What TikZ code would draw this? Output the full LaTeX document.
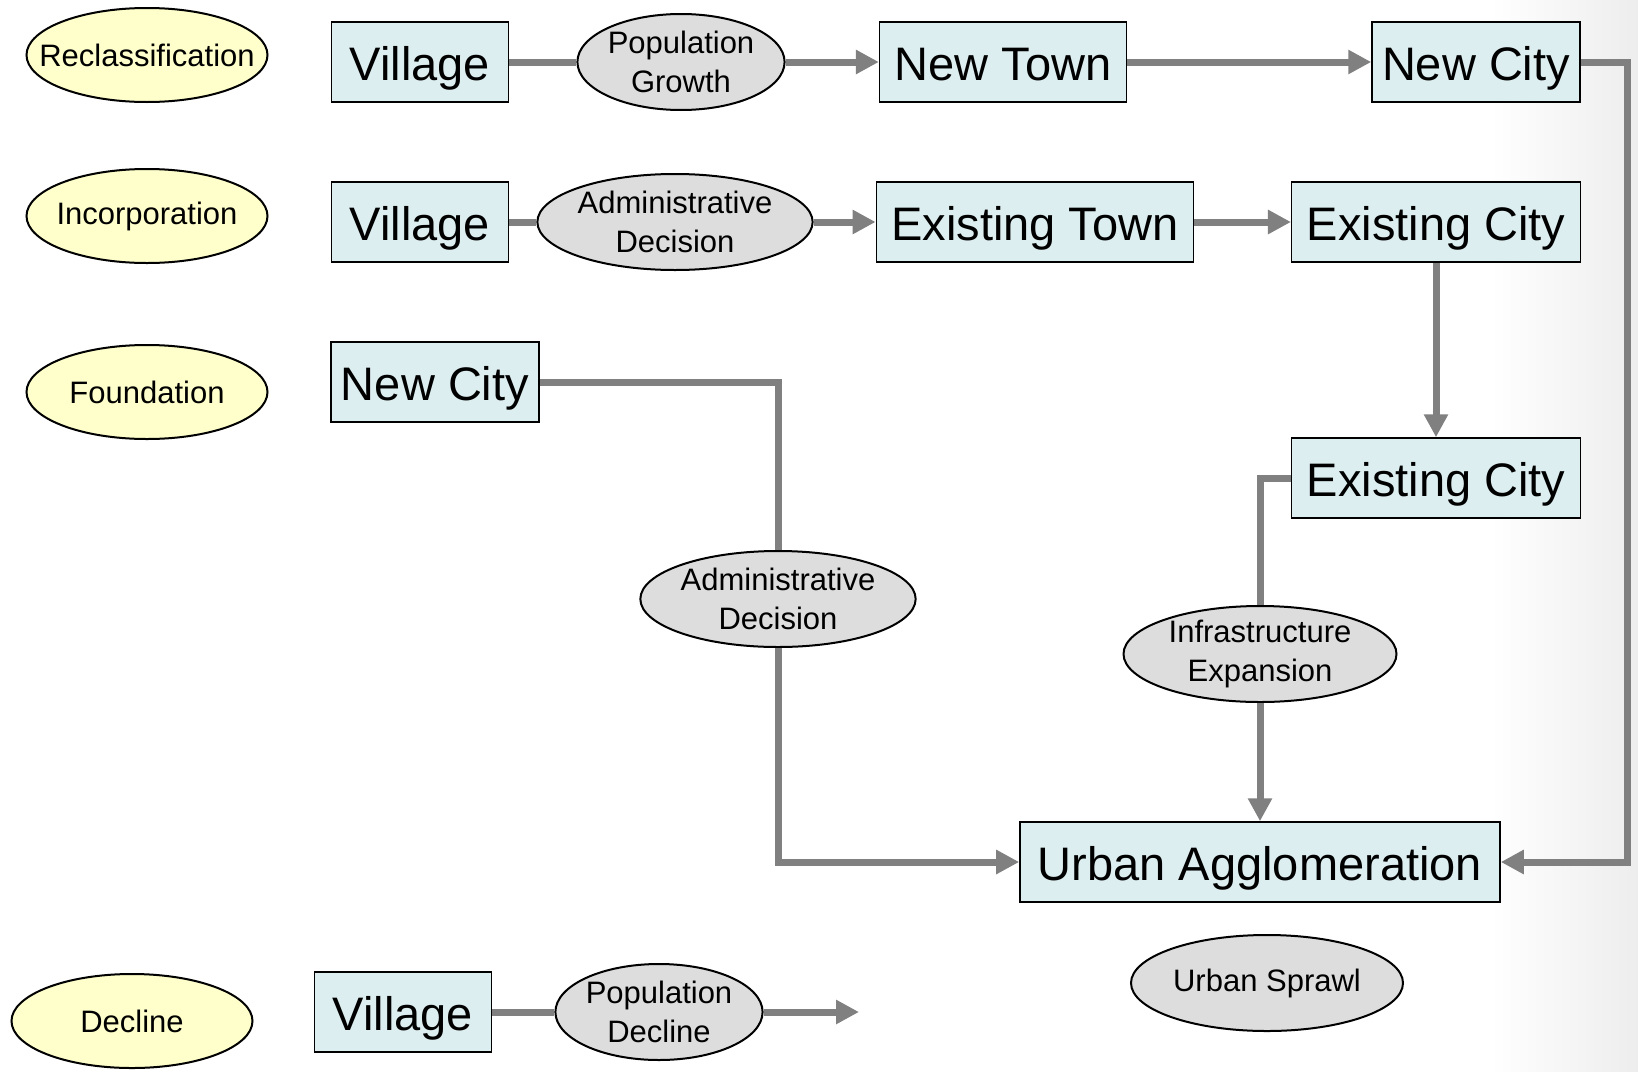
\documentclass[tikz,border=0pt]{standalone}
\usepackage{fontspec}
\setmainfont{Liberation Sans}
\usetikzlibrary{arrows.meta,shapes.geometric}
\definecolor{boxfill}{HTML}{DDEEF0}
\definecolor{phasefill}{HTML}{FFFFCC}
\definecolor{eventfill}{HTML}{DDDDDD}
\definecolor{flowgray}{HTML}{808080}
\newcommand{\phasetext}[1]{\makebox[0pt]{#1}}

\begin{document}
\begin{tikzpicture}[x = 1pt, y = -1pt, align = center,
    stagebox/.style = {draw, fill = boxfill, line width = 1.5pt, minimum width = 177pt,
        minimum height = 80pt, inner xsep = 15pt, text height = 42pt, text depth = 6pt,
        font = \fontsize{47}{56}\selectfont},
    phase/.style = {ellipse, draw, fill = phasefill, line width = 2pt, minimum width = 241pt,
        minimum height = 94pt, inner sep = 0pt, font = \fontsize{31}{38.5}\selectfont},
    event/.style = {ellipse, draw, fill = eventfill, line width = 2pt,
        minimum height = 96pt, inner sep = 0pt, font = \fontsize{31}{38.5}\selectfont},
    flow/.style = {draw = flowgray, line width = 7pt},
    flowto/.style = {flow, -{Triangle[length = 23pt, width = 23pt]}}]
                    \useasboundingbox (0, 0) rectangle (1638, 1071);
                    \shade[left color = white, right color = black!7] (1490, 0) rectangle (1638, 1071);

                    \node[phase]    (1)  at ( 147,   55) {\phasetext{Reclassification}};
                    \node[stagebox] (2)  at ( 420,   62) {Village};
                    \node[event]    (3)  at ( 681,   62) {Population\\Growth};
                    \node[stagebox] (4)  at (1003,   62) {New Town};
                    \node[stagebox, inner xsep = 10pt] (5)  at (1476,   62) {New City};

                    \node[phase]    (6)  at ( 147,  216) {\phasetext{Incorporation}};
                    \node[stagebox] (7)  at ( 420,  222) {Village};
                    \node[event]    (8)  at ( 675,  222) {Administrative\\Decision};
                    \node[stagebox] (9)  at (1035,  222) {Existing Town};
                    \node[stagebox] (10) at (1436,  222) {Existing City};

                    \node[phase]    (11) at ( 147,  392) {\phasetext{Foundation}};
                    \node[stagebox, inner xsep = 10pt] (12) at ( 435,  382) {New City};
                    \node[stagebox] (13) at (1436,  478) {Existing City};
                    \node[event]    (14) at ( 778,  599) {Administrative\\Decision};
                    \node[event, minimum width = 273pt] (15) at (1260,  654) {Infrastructure\\Expansion};
                    \node[stagebox, inner xsep = 18pt] (16) at (1260,  862) {Urban Agglomeration};
                    \node[event, minimum width = 272pt] (17) at (1267,  983) {Urban Sprawl};

                    \node[phase]    (18) at ( 132, 1021) {\phasetext{Decline}};
                    \node[stagebox] (19) at ( 403, 1012) {Village};
                    \node[event]    (20) at ( 659, 1012) {Population\\Decline};
                    \coordinate     (21) at ( 859, 1012);
                    \coordinate     (22) at (1627,  862);

                    \draw[flow]   (2) -- (3);
                    \draw[flowto] (3) -- (4);
                    \draw[flowto] (4) -- (5);
                    \draw[flowto] (5.east) -| (22) -- (16.east);

                    \draw[flow]   (7) -- (8);
                    \draw[flowto] (8) -- (9);
                    \draw[flowto] (9) -- (10);
                    \draw[flowto] (10) -- (13);

                    \draw[flow]   (12.east) -| (14.north);
                    \draw[flowto] (14.south) |- (16.west);
                    \draw[flow]   (13.west) -| (15.north);
                    \draw[flowto] (15) -- (16);

                    \draw[flow]   (19) -- (20);
                    \draw[flowto] (20) -- (21);
                \end{tikzpicture}
\end{document}
